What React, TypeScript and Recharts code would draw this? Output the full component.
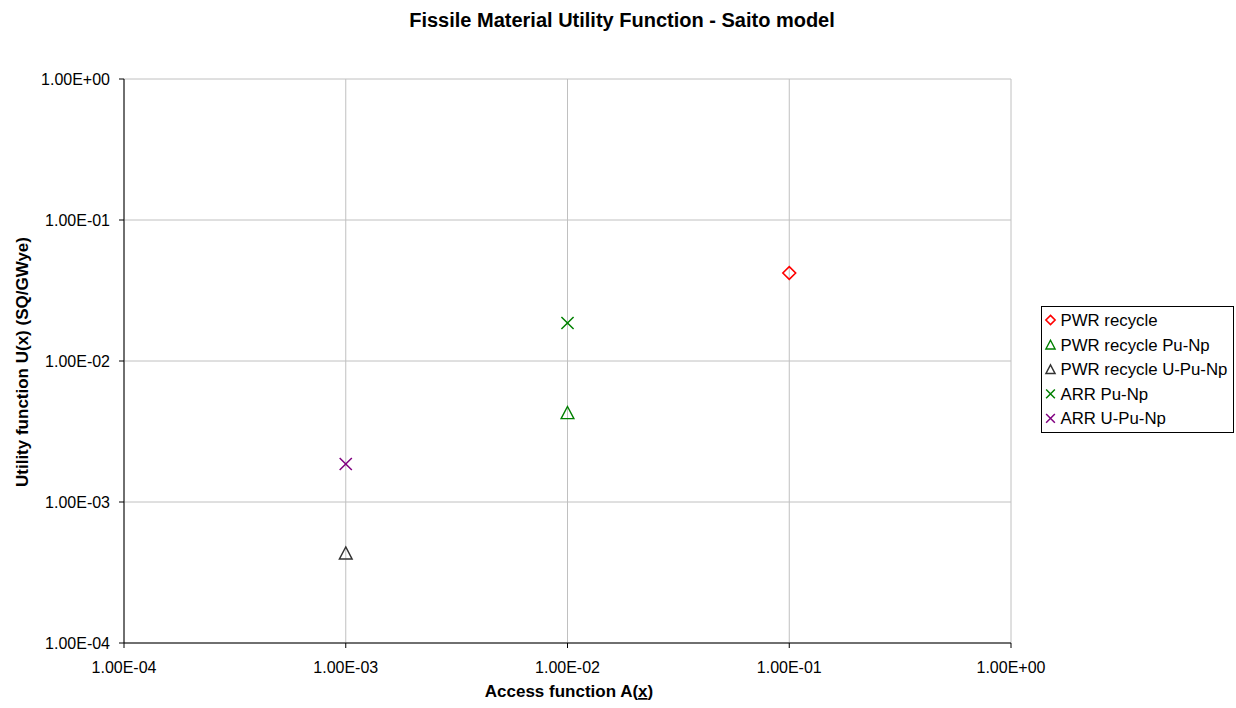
import React from 'react';
import { ScatterChart, Scatter, XAxis, YAxis, CartesianGrid } from 'recharts';

const xTicks = [1e-4, 1e-3, 1e-2, 1e-1, 1];
const yTicks = [1e-4, 1e-3, 1e-2, 1e-1, 1];

const pwrRecycle = [{ x: 0.1, y: 0.0421 }];
const pwrPuNp = [{ x: 0.01, y: 0.00431 }];
const pwrUPuNp = [{ x: 0.001, y: 0.000435 }];
const arrPuNp = [{ x: 0.01, y: 0.0186 }];
const arrUPuNp = [{ x: 0.001, y: 0.00186 }];

const seriesNames = ['PWR recycle', 'PWR recycle Pu-Np', 'PWR recycle U-Pu-Np', 'ARR Pu-Np', 'ARR U-Pu-Np'];
const seriesColors = ['#ff0000', '#008000', '#333333', '#008000', '#800080'];
const seriesShapes = ['diamond', 'triangle', 'triangle', 'cross', 'cross'];
const seriesData = [pwrRecycle, pwrPuNp, pwrUPuNp, arrPuNp, arrUPuNp];

const fmt = (v: number) => {
  const s = v.toExponential(2);
  const [m, e] = s.split('e');
  const sign = e[0] === '-' ? '-' : '+';
  const n = Math.abs(parseInt(e, 10));
  return `${m}E${sign}${n < 10 ? '0' + n : n}`;
};

const Marker = ({ kind, cx, cy, color, r }: { kind: string; cx: number; cy: number; color: string; r: number }) => {
  if (kind === 'diamond') {
    return (
      <path
        d={`M${cx},${cy - r} L${cx + r},${cy} L${cx},${cy + r} L${cx - r},${cy} Z`}
        fill="none"
        stroke={color}
        strokeWidth={1.6}
      />
    );
  }
  if (kind === 'triangle') {
    return (
      <path
        d={`M${cx},${cy - r * 0.95} L${cx + r},${cy + r * 0.95} L${cx - r},${cy + r * 0.95} Z`}
        fill="none"
        stroke={color}
        strokeWidth={1.4}
        strokeLinejoin="miter"
      />
    );
  }
  const q = r * 0.95;
  return (
    <path
      d={`M${cx - q},${cy - q} L${cx + q},${cy + q} M${cx - q},${cy + q} L${cx + q},${cy - q}`}
      fill="none"
      stroke={color}
      strokeWidth={1.5}
    />
  );
};

const makeShape = (kind: string, color: string) => (props: any) => (
  <Marker kind={kind} cx={props.cx} cy={props.cy} color={color} r={6.4} />
);

const font = '"Liberation Sans", Arial, sans-serif';

export default function App() {
  return (
    <div style={{ position: 'absolute', left: 0, top: 0, width: 1236, height: 708, background: '#fff', fontFamily: font }}>
      <ScatterChart width={1236} height={708} margin={{ top: 79, right: 225, bottom: 35, left: 64 }}>
        <CartesianGrid stroke="#c0c0c0" strokeWidth={1} />
        <XAxis
          type="number"
          dataKey="x"
          scale="log"
          domain={[1e-4, 1]}
          ticks={xTicks}
          tickFormatter={fmt}
          allowDataOverflow
          stroke="#000"
          tickSize={5}
          tickMargin={14}
          height={30}
          tick={{ fill: '#000', fontSize: 16, fontFamily: font }}
          tickLine={{ stroke: '#000' }}
          axisLine={{ stroke: '#000' }}
        />
        <YAxis
          type="number"
          dataKey="y"
          scale="log"
          domain={[1e-4, 1]}
          ticks={yTicks}
          tickFormatter={fmt}
          allowDataOverflow
          stroke="#000"
          tickSize={5}
          tickMargin={9}
          width={60}
          tick={{ fill: '#000', fontSize: 16, fontFamily: font }}
          tickLine={{ stroke: '#000' }}
          axisLine={{ stroke: '#000' }}
        />
        {seriesData.map((d, i) => (
          <Scatter
            key={seriesNames[i]}
            name={seriesNames[i]}
            data={d}
            isAnimationActive={false}
            shape={makeShape(seriesShapes[i], seriesColors[i])}
          />
        ))}
      </ScatterChart>
      <svg
        width={1236}
        height={708}
        style={{ position: 'absolute', left: 0, top: 0, pointerEvents: 'none' }}
        fontFamily={font}
      >
        <text x={622} y={27} textAnchor="middle" fontWeight="bold" fontSize={20} fill="#000">
          Fissile Material Utility Function - Saito model
        </text>
        <text
          x={28}
          y={362}
          textAnchor="middle"
          fontWeight="bold"
          fontSize={17}
          fill="#000"
          transform="rotate(-90, 28, 362)"
        >
          Utility function U(x) (SQ/GWye)
        </text>
        <text x={569} y={697} textAnchor="middle" fontWeight="bold" fontSize={17} fill="#000">
          Access function A(<tspan textDecoration="underline">x</tspan>)
        </text>
        <rect x={1041.5} y={306.5} width={192} height={126} fill="#fff" stroke="#000" strokeWidth={1} />
        {seriesNames.map((n, i) => (
          <g key={n}>
            <Marker kind={seriesShapes[i]} cx={1050.5} cy={320 + i * 24.6} color={seriesColors[i]} r={4.6} />
            <text x={1060.5} y={326 + i * 24.6} fontSize={16.8} fill="#000">
              {n}
            </text>
          </g>
        ))}
      </svg>
    </div>
  );
}
